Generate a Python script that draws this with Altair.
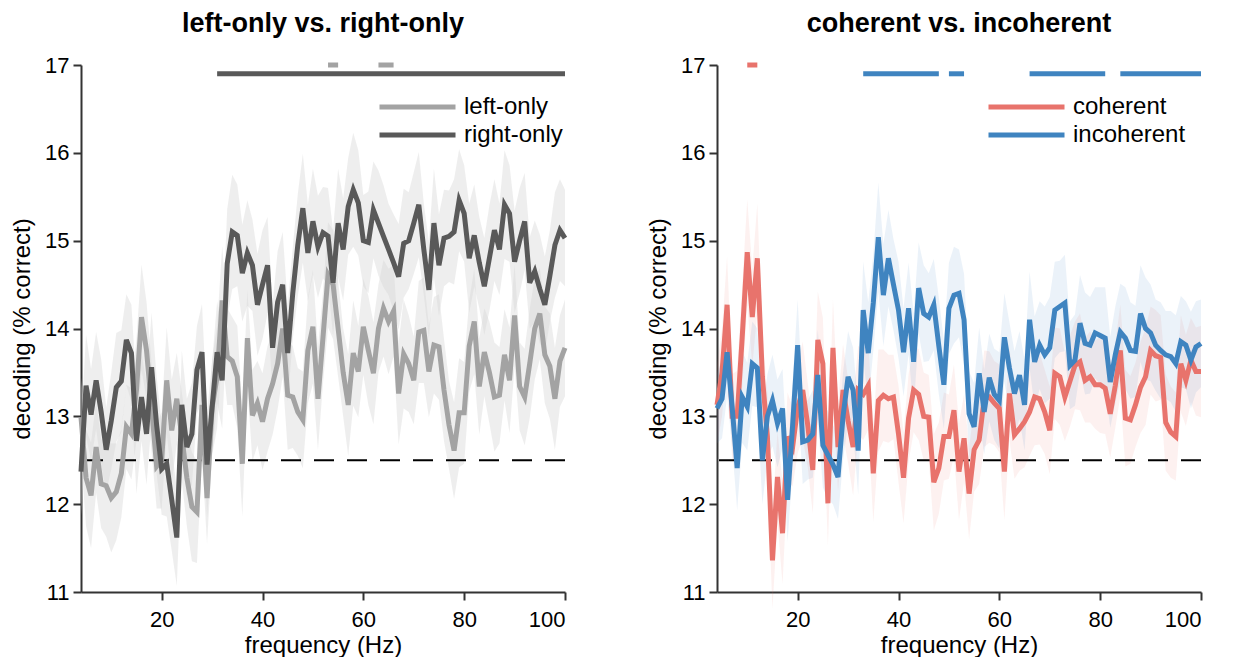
import altair as alt
import pandas as pd

FONT = "Liberation Sans, Arial, Helvetica, sans-serif"

freqs = list(range(4, 101))

# left panel series (decoding % correct), f = 4..100 Hz
left_only = [
    12.99, 12.30, 12.10, 12.65, 12.23, 12.21, 12.07, 12.14, 12.35, 12.88,
    12.80, 13.30, 14.13, 13.75, 13.10, 12.43, 12.50, 13.41, 12.84, 13.20,
    12.77, 12.30, 11.97, 11.91, 13.13, 12.07, 13.10, 13.45, 14.32, 13.68,
    13.63, 13.45, 12.46, 13.89, 13.01, 13.15, 12.94, 13.20, 13.37, 13.60,
    14.00, 13.24, 13.22, 13.05, 12.96, 13.75, 14.02, 13.20, 13.90, 14.61,
    14.50, 14.00, 13.50, 13.13, 13.72, 13.51, 14.02, 13.75, 13.49, 14.00,
    14.23, 14.08, 14.20, 13.26, 13.71, 13.60, 13.41, 13.96, 13.98, 13.51,
    13.81, 13.79, 13.30, 12.90, 12.61, 13.04, 13.04, 13.80, 14.08, 13.34,
    13.73, 13.50, 13.22, 13.24, 13.70, 13.41, 14.15, 13.34, 13.22, 13.60,
    14.00, 14.17, 13.70, 13.57, 13.20, 13.63, 13.78,
]
right_only = [
    12.37, 13.35, 13.02, 13.41, 13.05, 12.62, 12.95, 13.33, 13.40, 13.87,
    13.72, 12.72, 13.22, 12.80, 13.56, 12.90, 12.40, 12.46, 12.05, 11.62,
    13.13, 12.65, 12.80, 13.53, 13.73, 12.45, 13.10, 13.73, 13.41, 14.74,
    15.10, 15.06, 14.63, 14.86, 14.72, 14.27, 14.50, 14.72, 13.78, 14.30,
    14.50, 13.72, 14.40, 14.95, 15.37, 14.86, 15.22, 14.93, 15.09, 15.05,
    14.52, 15.20, 14.90, 15.39, 15.58, 15.43, 15.00, 14.98, 15.35, 15.20,
    15.05, 14.90, 14.75, 14.59, 14.97, 15.00, 15.20, 15.41, 14.90, 14.44,
    15.20, 14.72, 15.03, 15.05, 15.10, 15.46, 15.31, 14.80, 15.06, 14.75,
    14.48, 14.80, 15.12, 14.90, 15.41, 15.31, 14.76, 15.00, 15.22, 14.52,
    14.65, 14.45, 14.27, 14.60, 14.95, 15.12, 15.03,
]
sem_left_only = [
    0.45, 0.55, 0.60, 0.52, 0.50, 0.58, 0.62, 0.55, 0.50, 0.48,
    0.52, 0.58, 0.60, 0.55, 0.50, 0.48, 0.55, 0.60, 0.58, 0.52,
    0.50, 0.55, 0.62, 0.58, 0.60, 0.52, 0.55, 0.58, 0.62, 0.55,
    0.50, 0.58, 0.60, 0.55, 0.52, 0.48, 0.55, 0.60, 0.58, 0.52,
    0.55, 0.62, 0.58, 0.50, 0.55, 0.60, 0.65, 0.58, 0.52, 0.60,
    0.62, 0.55, 0.50, 0.58, 0.60, 0.52, 0.55, 0.62, 0.58, 0.50,
    0.55, 0.60, 0.52, 0.58, 0.62, 0.55, 0.50, 0.58, 0.60, 0.52,
    0.55, 0.60, 0.58, 0.50, 0.55, 0.62, 0.58, 0.52, 0.60, 0.55,
    0.50, 0.58, 0.62, 0.55, 0.52, 0.60, 0.58, 0.50, 0.55, 0.62,
    0.58, 0.52, 0.55, 0.60, 0.58, 0.52, 0.55,
]
sem_right_only = [
    0.50, 0.58, 0.52, 0.55, 0.60, 0.48, 0.55, 0.62, 0.58, 0.52,
    0.55, 0.60, 0.50, 0.58, 0.62, 0.55, 0.52, 0.60, 0.58, 0.55,
    0.62, 0.55, 0.58, 0.50, 0.55, 0.60, 0.52, 0.58, 0.55, 0.62,
    0.65, 0.58, 0.55, 0.60, 0.52, 0.58, 0.62, 0.55, 0.50, 0.58,
    0.60, 0.55, 0.52, 0.58, 0.62, 0.55, 0.60, 0.58, 0.52, 0.55,
    0.60, 0.62, 0.58, 0.55, 0.65, 0.60, 0.52, 0.58, 0.55, 0.60,
    0.58, 0.52, 0.55, 0.60, 0.62, 0.55, 0.58, 0.60, 0.52, 0.55,
    0.62, 0.58, 0.55, 0.52, 0.60, 0.58, 0.55, 0.62, 0.58, 0.52,
    0.55, 0.60, 0.58, 0.52, 0.62, 0.55, 0.58, 0.60, 0.55, 0.52,
    0.58, 0.62, 0.55, 0.52, 0.60, 0.58, 0.55,
]

# right panel series
coherent = [
    13.13, 13.50, 14.27, 13.00, 13.00, 13.90, 14.87, 14.13, 14.80, 13.45,
    12.77, 11.36, 12.31, 11.67, 12.77, 12.65, 13.10, 13.30, 12.90, 12.39,
    13.87, 13.60, 12.01, 13.78, 12.65, 13.30, 12.95, 12.65, 13.30, 13.25,
    13.35, 12.35, 13.18, 13.24, 13.20, 13.22, 12.80, 12.30, 12.98, 13.30,
    13.25, 13.00, 12.99, 12.25, 12.41, 12.77, 12.77, 13.07, 12.37, 12.75,
    12.12, 12.62, 12.73, 13.20, 13.22, 13.15, 13.09, 12.37, 13.26, 12.79,
    12.86, 12.94, 13.05, 13.22, 13.20, 13.05, 12.84, 13.49, 13.45, 13.22,
    13.40, 13.58, 13.62, 13.41, 13.45, 13.36, 13.36, 13.32, 13.03, 13.35,
    13.75, 12.98, 12.96, 13.13, 13.33, 13.45, 13.75, 13.69, 13.67, 12.93,
    12.82, 12.77, 13.60, 13.41, 13.64, 13.51, 13.51,
]
incoherent = [
    13.09, 13.20, 13.73, 13.11, 12.41, 13.22, 13.11, 13.60, 13.55, 12.50,
    13.00, 13.18, 12.92, 13.09, 12.05, 12.90, 13.81, 12.71, 12.73, 12.80,
    13.47, 12.67, 12.56, 12.45, 12.31, 13.00, 13.45, 13.30, 12.61, 14.21,
    13.72, 14.29, 15.04, 14.38, 14.80, 14.50, 14.21, 13.73, 14.23, 13.62,
    14.46, 14.17, 14.13, 14.27, 13.80, 13.36, 14.23, 14.38, 14.40, 14.10,
    13.03, 12.88, 13.49, 13.05, 13.44, 13.25, 13.18, 13.90, 13.55, 13.26,
    13.47, 13.13, 14.10, 13.62, 13.81, 13.70, 13.78, 14.21, 14.25, 14.29,
    13.58, 13.64, 14.06, 13.83, 13.81, 13.95, 13.92, 13.89, 13.39, 13.70,
    13.96, 13.89, 13.75, 13.74, 14.17, 14.00, 13.95, 13.81, 13.75, 13.70,
    13.68, 13.60, 13.85, 13.81, 13.64, 13.79, 13.83,
]
sem_coherent = [
    0.45, 0.50, 0.55, 0.48, 0.52, 0.58, 0.60, 0.55, 0.62, 0.50,
    0.48, 0.55, 0.52, 0.58, 0.50, 0.45, 0.52, 0.55, 0.48, 0.50,
    0.55, 0.52, 0.48, 0.55, 0.50, 0.52, 0.48, 0.55, 0.50, 0.52,
    0.50, 0.55, 0.58, 0.52, 0.50, 0.48, 0.55, 0.52, 0.50, 0.48,
    0.52, 0.50, 0.48, 0.55, 0.52, 0.50, 0.48, 0.52, 0.55, 0.50,
    0.52, 0.48, 0.50, 0.55, 0.52, 0.48, 0.50, 0.55, 0.52, 0.50,
    0.48, 0.52, 0.50, 0.55, 0.52, 0.48, 0.50, 0.52, 0.55, 0.50,
    0.52, 0.50, 0.55, 0.48, 0.52, 0.50, 0.55, 0.52, 0.50, 0.48,
    0.52, 0.55, 0.50, 0.48, 0.52, 0.55, 0.50, 0.52, 0.48, 0.55,
    0.52, 0.50, 0.55, 0.52, 0.48, 0.50, 0.52,
]
sem_incoherent = [
    0.40, 0.45, 0.50, 0.45, 0.48, 0.52, 0.50, 0.48, 0.45, 0.50,
    0.48, 0.52, 0.50, 0.45, 0.48, 0.50, 0.52, 0.48, 0.45, 0.50,
    0.52, 0.48, 0.50, 0.45, 0.48, 0.50, 0.52, 0.48, 0.50, 0.55,
    0.58, 0.55, 0.62, 0.58, 0.55, 0.52, 0.55, 0.50, 0.52, 0.55,
    0.52, 0.55, 0.50, 0.52, 0.55, 0.50, 0.52, 0.55, 0.50, 0.52,
    0.48, 0.50, 0.52, 0.48, 0.50, 0.52, 0.55, 0.50, 0.52, 0.48,
    0.50, 0.52, 0.55, 0.52, 0.50, 0.55, 0.58, 0.55, 0.52, 0.55,
    0.50, 0.52, 0.55, 0.58, 0.55, 0.52, 0.55, 0.58, 0.52, 0.55,
    0.55, 0.58, 0.55, 0.52, 0.55, 0.58, 0.55, 0.52, 0.55, 0.50,
    0.52, 0.55, 0.52, 0.50, 0.55, 0.52, 0.50,
]

# significance bars (Hz ranges)
sig_left_only = [(53, 55), (63, 66)]
sig_right_only = [(31, 100)]
sig_coherent = [(10, 12)]
sig_incoherent = [(33, 48), (50, 53), (66, 81), (84, 100)]

chance_level = 12.5
x_ticks = [20, 40, 60, 80, 100]
y_ticks = [11, 12, 13, 14, 15, 16, 17]


def series_df(names, vals, sems):
    rows = []
    for name, v, s in zip(names, vals, sems):
        for f, y, e in zip(freqs, v, s):
            rows.append({"freq": f, "series": name, "value": y,
                         "lo": y - e, "hi": y + e})
    return pd.DataFrame(rows)


def sig_df(names, sigs):
    rows = []
    for i, (name, spans) in enumerate(zip(names, sigs)):
        for a, b in spans:
            rows.append({"series": name, "start": a, "end": b,
                         "level": 17 - 0.1 * i})
    return pd.DataFrame(rows)


def panel(title, names, colors, band_colors, band_opacity, vals, sems, sigs, legend_x):
    df = series_df(names, vals, sems)
    sdf = sig_df(names, sigs)
    xscale = alt.Scale(domain=[4, 100], nice=False, zero=False)
    yscale = alt.Scale(domain=[11, 17], nice=False, zero=False)
    xax = alt.Axis(values=x_ticks, title="frequency (Hz)", labelPadding=9, titlePadding=3)
    yax = alt.Axis(values=y_ticks, format="d", title="decoding (% correct)",
                   labelPadding=4, titlePadding=10)
    cscale = alt.Scale(domain=names, range=colors)

    bands = []
    for i, (name, bc) in enumerate(zip(names, band_colors)):
        if i == 0:
            xe = alt.X("freq:Q", scale=xscale, axis=xax)
            ye = alt.Y("lo:Q", scale=yscale, axis=yax)
        else:
            xe = alt.X("freq:Q", scale=xscale)
            ye = alt.Y("lo:Q", scale=yscale)
        bands.append(
            alt.Chart(df[df["series"] == name]).mark_area(
                color=bc, opacity=band_opacity, interpolate="linear"
            ).encode(x=xe, y=ye, y2="hi:Q")
        )
    chance = alt.Chart(pd.DataFrame({"chance": [chance_level]})).mark_rule(
        color="black", strokeWidth=2, strokeDash=[20, 13]
    ).encode(y=alt.Y("chance:Q", scale=yscale))
    lines = alt.Chart(df).mark_line(strokeWidth=5).encode(
        x=alt.X("freq:Q", scale=xscale),
        y=alt.Y("value:Q", scale=yscale),
        color=alt.Color(
            "series:N",
            scale=cscale,
            legend=alt.Legend(
                orient="none", legendX=legend_x, legendY=29, title=None,
                symbolType="stroke", symbolSize=5776, symbolStrokeWidth=5,
                labelFontSize=24, labelFont=FONT, labelColor="black",
                labelOffset=6, clipHeight=26,
            ),
        ),
        order="freq:Q",
    )
    bars = alt.Chart(sdf).mark_rule(strokeWidth=5).encode(
        x=alt.X("start:Q", scale=xscale),
        x2="end:Q",
        y=alt.Y("level:Q", scale=yscale),
        color=alt.Color("series:N", scale=cscale),
    )
    return alt.layer(*bands, chance, lines, bars).properties(
        width=484, height=527,
        title=alt.TitleParams(title, fontSize=27, fontWeight="bold", font=FONT,
                              color="black", anchor="middle", offset=16),
    )


left = panel("left-only vs. right-only", ["left-only", "right-only"],
             ["#a3a3a3", "#595959"], ["#d4d4d4", "#d4d4d4"], 0.4,
             [left_only, right_only], [sem_left_only, sem_right_only],
             [sig_left_only, sig_right_only], 296)
right = panel("coherent vs. incoherent", ["coherent", "incoherent"],
              ["#e8736c", "#3f84c0"], ["#e8736c", "#3f84c0"], 0.1,
              [coherent, incoherent], [sem_coherent, sem_incoherent],
              [sig_coherent, sig_incoherent], 269)

chart = alt.hconcat(left, right, spacing=71).resolve_scale(
    color="independent"
).properties(
    padding={"left": 2, "top": 2, "right": 0, "bottom": 0}
).configure_view(stroke=None).configure_axis(
    grid=False, domainColor="#333333", domainWidth=2, tickColor="#333333",
    tickWidth=2, tickSize=8, labelFontSize=22, titleFontSize=24,
    labelFont=FONT, titleFont=FONT, labelColor="black", titleColor="black",
    titleFontWeight="normal",
)

chart.save("out.html", embed_options={"renderer": "svg", "actions": False})
